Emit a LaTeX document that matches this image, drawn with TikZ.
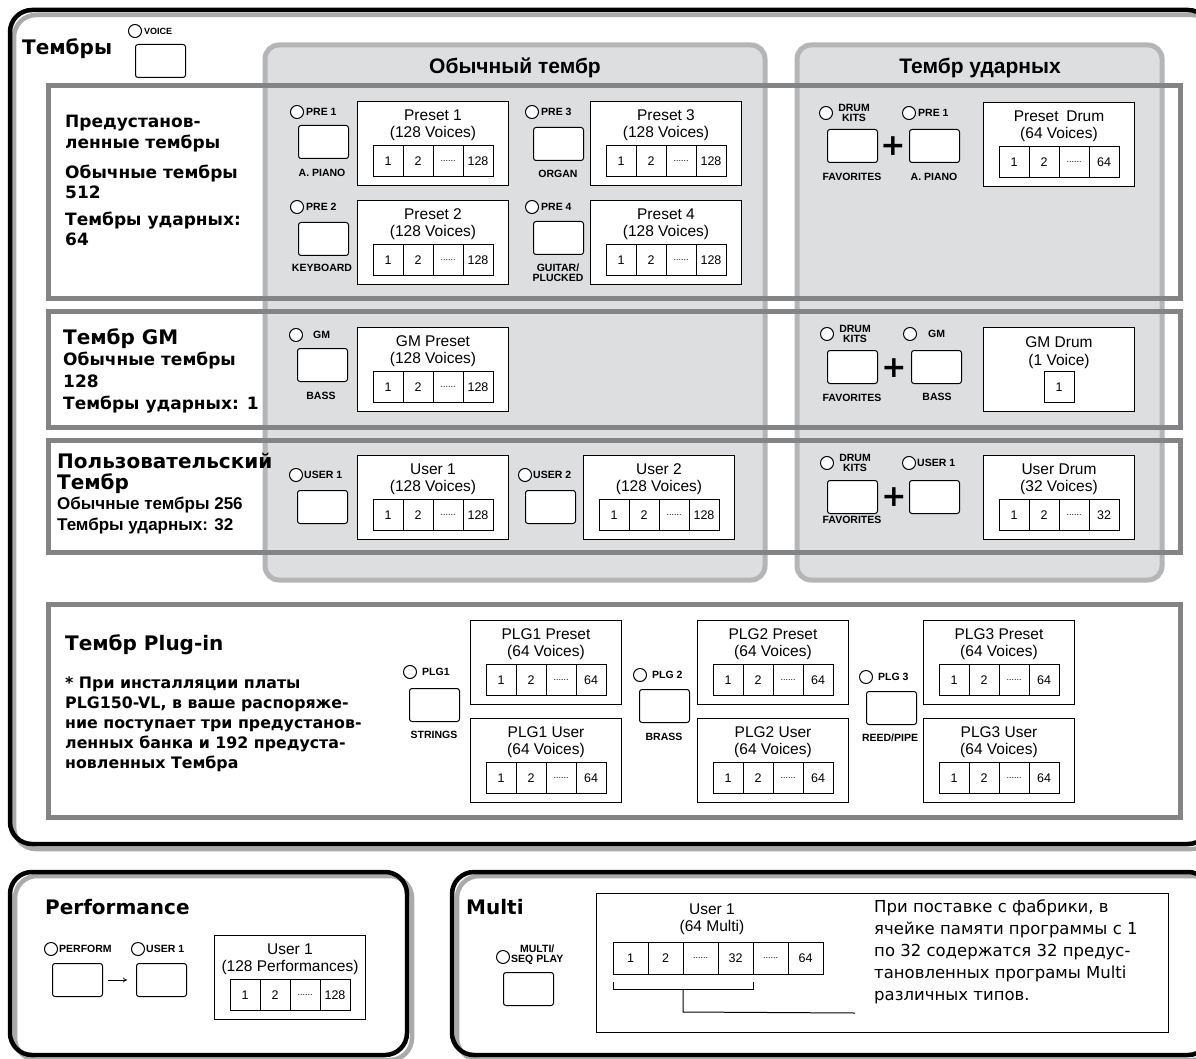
\documentclass[tikz,border=0pt]{standalone}
\usepackage{fontspec}
\setmainfont{Liberation Sans}
\newfontfamily\heavyfont{DejaVu Sans}
\usetikzlibrary{positioning,arrows.meta}

\definecolor{panelgray}{HTML}{DDDEDF}
\definecolor{panelline}{HTML}{B4B5B7}
\definecolor{framegray}{HTML}{838486}
\definecolor{shadowgray}{HTML}{A9AAAC}

\newcommand{\tagfont}{\fontsize{10.5}{10}\selectfont\bfseries}
\newcommand{\cellfont}{\fontsize{12.5}{12.5}\selectfont}
\newcommand{\titlefont}{\fontsize{15.5}{15.5}\selectfont}
\newcommand{\headA}{\heavyfont\bfseries\fontsize{20}{20}\selectfont}
\newcommand{\headB}{\heavyfont\bfseries\fontsize{17}{17}\selectfont}
\newcommand{\headC}{\bfseries\fontsize{17}{17}\selectfont}
\newcommand{\notefont}{\heavyfont\bfseries\fontsize{15.8}{15.8}\selectfont}
\newcommand{\multifont}{\heavyfont\fontsize{16.5}{22}\selectfont}

\tikzset{
  outer/.style={draw=black, line width=4.5pt, rounded corners=22pt},
  outershadow/.style={draw=shadowgray, line width=4.5pt, rounded corners=22pt},
  panel/.style={draw=panelline, fill=panelgray, line width=5pt, rounded corners=14pt},
  frame/.style={draw=framegray, line width=5pt},
  btn/.style={draw, fill=white, line width=1pt, rounded corners=2.5pt, minimum width=50pt, minimum height=33pt, inner sep=0pt, anchor=north west},
  led/.style={circle, draw, fill=white, line width=1pt, minimum size=13pt, inner sep=0pt},
  tag/.style={font=\tagfont, inner sep=0pt, align=center},
  bank/.style={draw, fill=white, line width=1pt, minimum width=151pt, minimum height=84pt, anchor=north west, inner sep=0pt},
  banktitle/.style={font=\titlefont, inner sep=0pt},
  cell/.style={draw, line width=1pt, minimum width=30pt, minimum height=31pt, inner sep=0pt, outer sep=0pt, font=\cellfont},
  dots/.style={cell, font=\fontsize{9}{9}\selectfont},
  plus/.style={font=\heavyfont\bfseries\fontsize{30}{30}\selectfont, inner sep=0pt},
  lefthead/.style={anchor=base west, inner sep=0pt},
  panelhead/.style={font=\bfseries\fontsize{21}{21}\selectfont, anchor=base, inner sep=0pt},
}

\newcommand{\bankbox}[6]{%
  \node[bank] (#1) at (#2,#3) {};
  \node[banktitle] at ([yshift=-14pt]#1.north) {#4};
  \node[banktitle] at ([yshift=-32.5pt]#1.north) {#5};
  \node[cell] (#1-1) at ([xshift=-45pt,yshift=-60pt]#1.north) {1};
  \node[cell, right=0pt of #1-1] (#1-2) {2};
  \node[dots, right=0pt of #1-2] (#1-3) {......};
  \node[cell, right=0pt of #1-3] (#1-4) {#6};
}

\begin{document}
\begin{tikzpicture}[x=1pt,y=-1pt]
\useasboundingbox (0,0) rectangle (1196,1059);
\fill[white] (0,0) rectangle (1196,1059);

\draw[outershadow] (14,15) rectangle (1214,849);
\draw[outer] (10,10) rectangle (1210,844);
\draw[outershadow] (15,876) rectangle (412,1060);
\draw[outer] (10,872) rectangle (407,1055);
\draw[outershadow] (457,876) rectangle (1214,1060);
\draw[outer] (452,872) rectangle (1210,1055);

\draw[panel] (265,45) rectangle (765,580);
\draw[panel] (797,45) rectangle (1162,580);
\node[panelhead] (normhead) at (515,74) {Обычный тембр};
\node[panelhead] (drumhead) at (980,74) {Тембр ударных};

\draw[frame] (48,86) rectangle (1180,298);
\draw[frame] (48,311) rectangle (1180,427);
\draw[frame] (48,440) rectangle (1180,552);
\draw[frame] (48,604) rectangle (1180,817);

\node[lefthead, font=\headA] (voicehead) at (22,55) {Тембры};
\node[led] (voiceled) at (135,31) {};
\node[tag, anchor=west, font=\bfseries\fontsize{9}{9}\selectfont] at (144,31) {VOICE};
\node[btn] (voicebtn) at (135,44) {};

\node[lefthead, font=\headB] at (65,128) {Предустанов-};
\node[lefthead, font=\headB] at (65,149) {ленные тембры};
\node[lefthead, font=\headB] at (65,179) {Обычные тембры};
\node[lefthead, font=\headB] at (65,199) {512};
\node[lefthead, font=\headB] at (65,226) {Тембры ударных:};
\node[lefthead, font=\headB] at (65,246) {64};

\node[led] (pre1led) at (297,112) {};
\node[tag, anchor=west] at (306,112) {PRE 1};
\node[btn] (pre1btn) at (298,125) {};
\node[tag] at (322,173) {A. PIANO};
\bankbox{preset1}{357}{101}{Preset 1}{(128 Voices)}{128}

\node[led] (pre2led) at (297,207) {};
\node[tag, anchor=west] at (306,207) {PRE 2};
\node[btn] (pre2btn) at (298,222) {};
\node[tag] at (322,268) {KEYBOARD};
\bankbox{preset2}{357}{200}{Preset 2}{(128 Voices)}{128}

\node[led] (pre3led) at (532,112) {};
\node[tag, anchor=west] at (541,112) {PRE 3};
\node[btn] (pre3btn) at (533,127) {};
\node[tag] at (558,174) {ORGAN};
\bankbox{preset3}{590}{101}{Preset 3}{(128 Voices)}{128}

\node[led] (pre4led) at (532,207) {};
\node[tag, anchor=west] at (541,207) {PRE 4};
\node[btn] (pre4btn) at (533,221) {};
\node[tag] at (558,273) {GUITAR/\\PLUCKED};
\bankbox{preset4}{590}{200}{Preset 4}{(128 Voices)}{128}

\node[led] (kitsled1) at (826,113) {};
\node[tag] at (854,113) {DRUM\\KITS};
\node[btn] (favbtn1) at (827,129) {};
\node[plus] at (893,146) {+};
\node[led] (dpre1led) at (909,113) {};
\node[tag, anchor=west] at (918,113) {PRE 1};
\node[btn] (dpre1btn) at (909,129) {};
\node[tag] at (852,177) {FAVORITES};
\node[tag] at (934,177) {A. PIANO};
\bankbox{presetdrum}{983}{102}{Preset\enspace Drum}{(64 Voices)}{64}

\node[lefthead, font=\headA] at (63,344) {Тембр GM};
\node[lefthead, font=\headB] at (63,365) {Обычные тембры};
\node[lefthead, font=\headB] at (63,387) {128};
\node[lefthead, font=\headB] at (63,409) {Тембры ударных: 1};

\node[led] (gmled) at (296,335) {};
\node[tag, anchor=west] at (313,335) {GM};
\node[btn] (gmbtn) at (297,348) {};
\node[tag] at (321,396) {BASS};
\bankbox{gmpreset}{357}{327}{GM Preset}{(128 Voices)}{128}

\node[led] (kitsled2) at (827,334) {};
\node[tag] at (855,334) {DRUM\\KITS};
\node[btn] (favbtn2) at (827,350) {};
\node[plus] at (894,368) {+};
\node[led] (dgmled) at (910,334) {};
\node[tag, anchor=west] at (928,334) {GM};
\node[btn] (dgmbtn) at (911,350) {};
\node[tag] at (852,398) {FAVORITES};
\node[tag] at (937,397) {BASS};
\node[bank] (gmdrum) at (983,327) {};
\node[banktitle] at ([yshift=-15pt]gmdrum.north) {GM Drum};
\node[banktitle] at ([yshift=-34pt]gmdrum.north) {(1 Voice)};
\node[cell] (gmdrum-1) at ([yshift=-60pt]gmdrum.north) {1};

\node[lefthead, font=\headA] at (57,468) {Пользовательский};
\node[lefthead, font=\headA] at (57,489) {Тембр};
\node[lefthead, font=\headC] at (57,509) {Обычные тембры 256};
\node[lefthead, font=\headC] at (57,530) {Тембры ударных: 32};

\node[led] (user1led) at (296,475) {};
\node[tag, anchor=west] at (304,475) {USER 1};
\node[btn] (user1btn) at (297,490) {};
\bankbox{user1}{357}{455}{User 1}{(128 Voices)}{128}

\node[led] (user2led) at (525,475) {};
\node[tag, anchor=west] at (533,475) {USER 2};
\node[btn] (user2btn) at (525,490) {};
\bankbox{user2}{583}{455}{User 2}{(128 Voices)}{128}

\node[led] (kitsled3) at (827,463) {};
\node[tag] at (855,463) {DRUM\\KITS};
\node[btn] (favbtn3) at (827,480) {};
\node[plus] at (894,497) {+};
\node[led] (duser1led) at (909,463) {};
\node[tag, anchor=west] at (917,463) {USER 1};
\node[btn] (duser1btn) at (909,480) {};
\node[tag] at (852,520) {FAVORITES};
\bankbox{userdrum}{983}{455}{User Drum}{(32 Voices)}{32}

\node[lefthead, font=\headA] at (65,650) {Тембр Plug-in};
\node[lefthead, font=\notefont] at (65,688) {* При инсталляции платы};
\node[lefthead, font=\notefont] at (65,708) {PLG150-VL, в ваше распоряже-};
\node[lefthead, font=\notefont] at (65,728) {ние поступает три предустанов-};
\node[lefthead, font=\notefont] at (65,748) {ленных банка и 192 предуста-};
\node[lefthead, font=\notefont] at (65,768) {новленных Тембра};

\node[led] (plg1led) at (410,672) {};
\node[tag, anchor=west] at (422,672) {PLG1};
\node[btn] (plg1btn) at (409,688) {};
\node[tag] at (434,735) {STRINGS};
\bankbox{plg1pre}{470}{620}{PLG1 Preset}{(64 Voices)}{64}
\bankbox{plg1usr}{470}{718}{PLG1 User}{(64 Voices)}{64}

\node[led] (plg2led) at (640,675) {};
\node[tag, anchor=west] at (652,675) {PLG 2};
\node[btn] (plg2btn) at (639,689) {};
\node[tag] at (664,737) {BRASS};
\bankbox{plg2pre}{697}{620}{PLG2 Preset}{(64 Voices)}{64}
\bankbox{plg2usr}{697}{718}{PLG2 User}{(64 Voices)}{64}

\node[led] (plg3led) at (866,677) {};
\node[tag, anchor=west] at (878,677) {PLG 3};
\node[btn] (plg3btn) at (866,691) {};
\node[tag] at (890,738) {REED/PIPE};
\bankbox{plg3pre}{923}{620}{PLG3 Preset}{(64 Voices)}{64}
\bankbox{plg3usr}{923}{718}{PLG3 User}{(64 Voices)}{64}

\node[lefthead, font=\headA] at (45,914) {Performance};
\node[led] (perfled) at (51,949) {};
\node[tag, anchor=west] at (59,949) {PERFORM};
\node[led] (puserled) at (138,949) {};
\node[tag, anchor=west] at (146,949) {USER 1};
\node[btn] (perfbtn) at (52,963) {};
\node[btn] (puserbtn) at (136,963) {};
\draw[-{To[length=4pt,width=5pt]}, line width=0.7pt, shorten <=5pt, shorten >=9pt] (perfbtn.east) -- (puserbtn.west);
\bankbox{perfuser}{214}{935}{User 1}{(128 Performances)}{128}

\node[lefthead, font=\headA] at (466,914) {Multi};
\node[led] (multiled) at (503,957) {};
\node[tag, anchor=west] at (511,955) {MULTI/\\SEQ PLAY};
\node[btn] (multibtn) at (503,972) {};
\draw[line width=1pt] (596,893) rectangle (1168,1032);
\node[banktitle] at (712,909) {User 1};
\node[banktitle] at (712,927) {(64 Multi)};
\node[cell, minimum width=35pt, minimum height=32pt] (m-1) at (630.5,958) {1};
\node[cell, minimum width=35pt, minimum height=32pt, right=0pt of m-1] (m-2) {2};
\node[dots, minimum width=35pt, minimum height=32pt, right=0pt of m-2] (m-3) {......};
\node[cell, minimum width=35pt, minimum height=32pt, right=0pt of m-3] (m-4) {32};
\node[dots, minimum width=35pt, minimum height=32pt, right=0pt of m-4] (m-5) {......};
\node[cell, minimum width=35pt, minimum height=32pt, right=0pt of m-5] (m-6) {64};
\coordinate (mtip) at (855,1013);
\draw[line width=1pt] ([yshift=-8pt]m-1.south west) -- ([yshift=-15pt]m-1.south west) -- ([yshift=-15pt]m-4.south east) -- ([yshift=-8pt]m-4.south east);
\draw[line width=1pt] ([yshift=-15pt]m-2.south east) -- ([yshift=-38pt]m-2.south east) -- (mtip);
\node[anchor=north west, align=left, font=\multifont, inner sep=0pt] (multinote) at (874,899) {При поставке с фабрики, в\\ячейке памяти программы с 1\\по 32 содержатся 32 предус-\\тановленных програмы Multi\\различных типов.};
\end{tikzpicture}
\end{document}
